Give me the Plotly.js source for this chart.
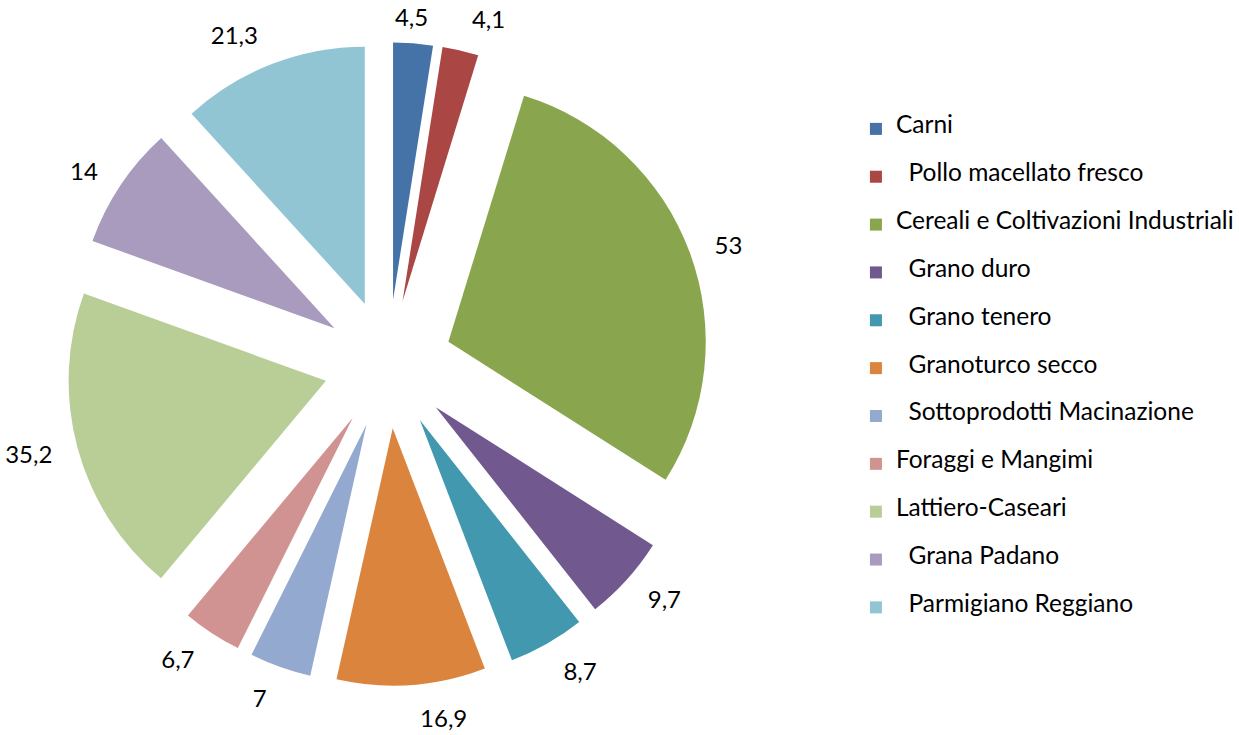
<!DOCTYPE html>
<html>
<head>
<meta charset="utf-8">
<script src="https://cdn.plot.ly/plotly-3.0.1.min.js"></script>
<style>
  html, body { margin: 0; padding: 0; background: #fff; }
  #chart { width: 1239px; height: 735px; }
</style>
</head>
<body>
<div id="chart"></div>
<script>
// categories (legend order = slice order, clockwise from 12 o'clock)
var categories = [
	'Carni',
	'&nbsp;&nbsp;Pollo macellato fresco',
	'Cereali e Coltivazioni Industriali',
	'&nbsp;&nbsp;Grano duro',
	'&nbsp;&nbsp;Grano tenero',
	'&nbsp;&nbsp;Granoturco secco',
	'&nbsp;&nbsp;Sottoprodotti Macinazione',
	'Foraggi e Mangimi',
	'Lattiero-Caseari',
	'&nbsp;&nbsp;Grana Padano',
	'&nbsp;&nbsp;Parmigiano Reggiano'
];
var values = [4.5, 4.1, 53, 9.7, 8.7, 16.9, 7, 6.7, 35.2, 14, 21.3];
var colors = ['#4572A7', '#AA4643', '#89A54E', '#71588F', '#4198AF', '#DB843D',
	'#93A9CF', '#D19392', '#B9CD96', '#A99BBD', '#92C5D4'];

var FONT = 'Lato, "Open Sans", sans-serif';

// legend labels: padded with blank lines so each entry gets the wide spacing
var legendLabels = categories.map(function(c) {
	return '&nbsp;<br><span style="font-size:24.5px">' + c + '</span><br>&nbsp;';
});

// the coloured slices
var slices = {
	type: 'pie',
	labels: legendLabels,
	values: values,
	sort: false,
	direction: 'clockwise',
	rotation: 0,
	pull: 0.25,
	marker: {colors: colors, line: {width: 0}},
	textinfo: 'none',
	hoverinfo: 'label+value',
	domain: {x: [0.0537, 0.5742], y: [0.066, 0.9435]}
};

// same pie, slightly bigger and invisible, only to carry the value labels a bit further out.
// the label of the first thin slice gets its own copy, nudged left, so the two top labels sit side by side
function labelPie(keep, domain) {
	return {
		type: 'pie',
		labels: legendLabels,
		values: values,
		sort: false,
		direction: 'clockwise',
		rotation: 0,
		pull: 0.25,
		showlegend: false,
		marker: {colors: colors.map(function() { return 'rgba(0,0,0,0)'; }), line: {width: 0}},
		textposition: 'outside',
		texttemplate: values.map(function(v, i) { return keep(i) ? '%{value}' : ''; }),
		textfont: {family: FONT, size: 24, color: '#000'},
		hoverinfo: 'skip',
		domain: domain
	};
}

var layout = {
	width: 1239,
	height: 735,
	margin: {l: 0, r: 0, t: 0, b: 0},
	paper_bgcolor: '#fff',
	separators: ',.',
	showlegend: true,
	legend: {
		x: 0.6925, xanchor: 'left',
		y: 0.864, yanchor: 'top',
		font: {family: FONT, size: 11.5, color: '#000'},
		bgcolor: 'rgba(0,0,0,0)'
	}
};

Plotly.newPlot('chart', [
	slices,
	labelPie(function(i) { return i !== 0; }, {x: [0.0387, 0.5892], y: [0.0408, 0.9687]}),
	labelPie(function(i) { return i === 0; }, {x: [0.0169, 0.5674], y: [0.0326, 0.9605]})
], layout, {displayModeBar: false, staticPlot: true});
</script>
</body>
</html>
